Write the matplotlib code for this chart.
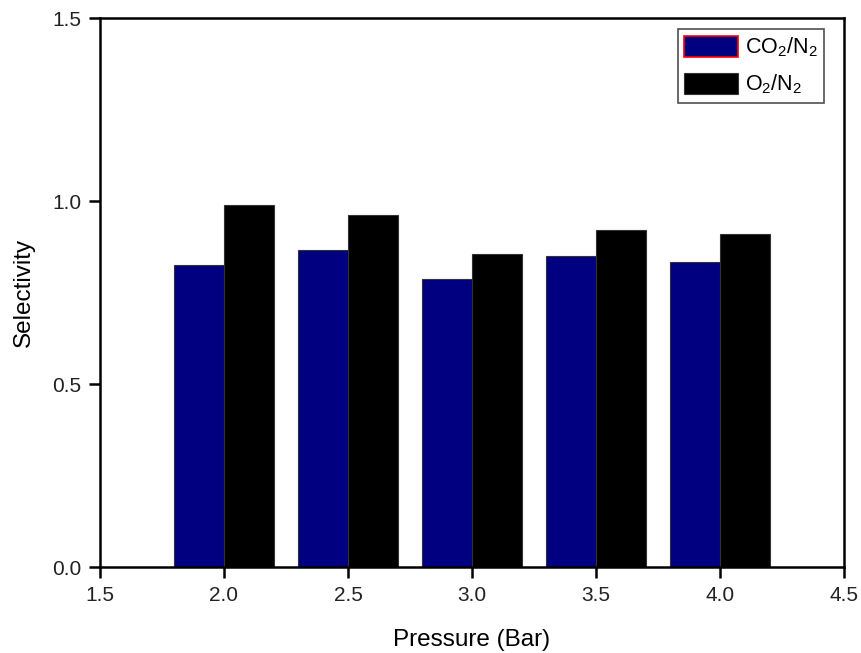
import matplotlib
matplotlib.use('Agg')
import matplotlib.pyplot as plt
import numpy as np

plt.rcParams['font.family'] = ['Liberation Sans', 'DejaVu Sans']
plt.rcParams['mathtext.fontset'] = 'custom'
plt.rcParams['mathtext.rm'] = 'Liberation Sans'
plt.rcParams['mathtext.it'] = 'Liberation Sans'

# data
pressure = [2.0, 2.5, 3.0, 3.5, 4.0]
co2_n2 = [0.825, 0.866, 0.787, 0.852, 0.833]
o2_n2 = [0.989, 0.963, 0.857, 0.922, 0.910]

fig = plt.figure(figsize=(8.62, 6.53), dpi=100)
ax = fig.add_axes([0.116, 0.131, 0.863, 0.841])

x = np.array(pressure)
ax.bar(x - 0.1, co2_n2, width=0.2, color='#000080', edgecolor='#333333',
       linewidth=0.8, label='CO$_2$/N$_2$')
ax.bar(x + 0.1, o2_n2, width=0.2, color='black', edgecolor='#333333',
       linewidth=0.8, label='O$_2$/N$_2$')

ax.set_xlim(1.5, 4.5)
ax.set_ylim(0, 1.5)
ax.set_xticks(np.arange(1.5, 4.51, 0.5))
ax.set_yticks(np.arange(0, 1.51, 0.5))
ax.xaxis.set_major_formatter(matplotlib.ticker.FormatStrFormatter('%.1f'))
ax.yaxis.set_major_formatter(matplotlib.ticker.FormatStrFormatter('%.1f'))

for s in ax.spines.values():
    s.set_linewidth(1.8)
ax.tick_params(direction='out', width=1.8, length=8, labelsize=15,
               labelcolor='#222222', pad=5.5)

ax.set_xlabel('Pressure (Bar)', fontsize=17.5, labelpad=17)
ax.set_ylabel('Selectivity', fontsize=17.5, labelpad=12)

leg = ax.legend(loc='upper right', bbox_to_anchor=(0.973, 0.98), fontsize=15.5,
                frameon=True, fancybox=False, edgecolor='#222222',
                handlelength=2.5, handleheight=1.1, borderpad=0.3,
                labelspacing=0.62, handletextpad=0.3, borderaxespad=0)
leg.get_frame().set_linewidth(1.2)
leg.legend_handles[0].set_edgecolor('red')
leg.legend_handles[0].set_linewidth(1.2)

fig.savefig('out.png', dpi=100)
